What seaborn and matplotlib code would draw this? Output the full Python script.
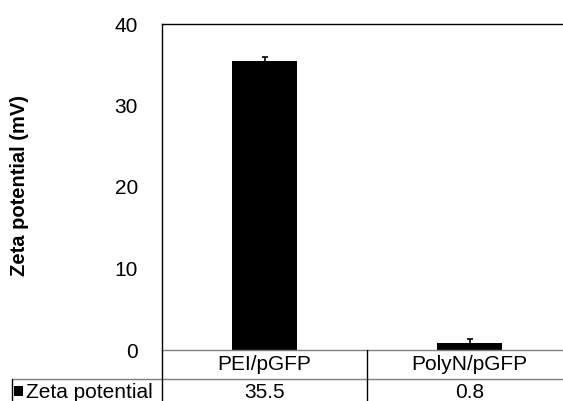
import matplotlib
matplotlib.use("Agg")
import matplotlib.pyplot as plt
from matplotlib.lines import Line2D
from matplotlib.patches import Rectangle
from matplotlib.transforms import blended_transform_factory
import seaborn as sns
import pandas as pd

categories = ["PEI/pGFP", "PolyN/pGFP"]
zeta = [35.5, 0.8]
zeta_err = [0.4, 0.5]
value_labels = ["35.5", "0.8"]
series_name = "Zeta potential"
y_ticks = [0, 10, 20, 30, 40]

sns.set_theme(style="white")
plt.rcParams["font.family"] = ["Liberation Sans", "DejaVu Sans"]

W, H = 563, 401
FS = 15
fig = plt.figure(figsize=(W / 100, H / 100), dpi=100)

def fx(x):
    return x / W

def fy(y):
    return 1 - y / H

ax = fig.add_axes([fx(162), fy(350), fx(572) - fx(162), fy(24) - fy(350)])

df = pd.DataFrame({"cat": categories, "val": zeta})
sns.barplot(data=df, x="cat", y="val", color="black", width=0.32,
            saturation=1, ax=ax, errorbar=None)
for b in ax.patches:
    b.set_edgecolor("none")
ax.errorbar(range(len(categories)), zeta, yerr=zeta_err, fmt="none",
            ecolor="black", elinewidth=1.2, capsize=2.5, capthick=1.2)

ax.set_xlim(-0.5, 1.5)
ax.set_ylim(0, 40)
ax.set_yticks(y_ticks)
ax.tick_params(axis="y", length=0, labelsize=FS, pad=17.3, colors="black")
ax.set_xticks([])
ax.set_xlabel("")
ax.set_ylabel("")
for side in ["left", "top", "right"]:
    ax.spines[side].set_color("black")
    ax.spines[side].set_linewidth(1.0)
ax.spines["bottom"].set_color("#808080")
ax.spines["bottom"].set_linewidth(1.0)

fig.text(fx(20), fy(186), "Zeta potential (mV)", rotation=90, ha="center",
         va="center", fontsize=14.5, fontweight="bold", color="black")

# data table below the axis
grid_gray = "#808080"
fig.add_artist(Line2D([fx(12), fx(572)], [fy(379), fy(379)], color=grid_gray, lw=1.0))
fig.add_artist(Line2D([fx(162), fx(162)], [fy(350), fy(402)], color="black", lw=1.0))
fig.add_artist(Line2D([fx(12), fx(12)], [fy(379), fy(402)], color="black", lw=1.0))
fig.add_artist(Line2D([fx(367), fx(367)], [fy(350), fy(402)], color="black", lw=1.0))

trans = blended_transform_factory(ax.transData, fig.transFigure)
for i, (c, v) in enumerate(zip(categories, value_labels)):
    fig.text(i, fy(370), c, transform=trans, ha="center", va="baseline",
             fontsize=FS, color="black")
    fig.text(i, fy(398), v, transform=trans, ha="center", va="baseline",
             fontsize=FS, color="black")

fig.add_artist(Rectangle((fx(14), fy(395.5)), fx(9), fy(386) - fy(395.5),
                         facecolor="black", edgecolor="none"))
fig.text(fx(26), fy(398), series_name, ha="left", va="baseline",
         fontsize=FS, color="black")

fig.savefig("out.png", dpi=100)
